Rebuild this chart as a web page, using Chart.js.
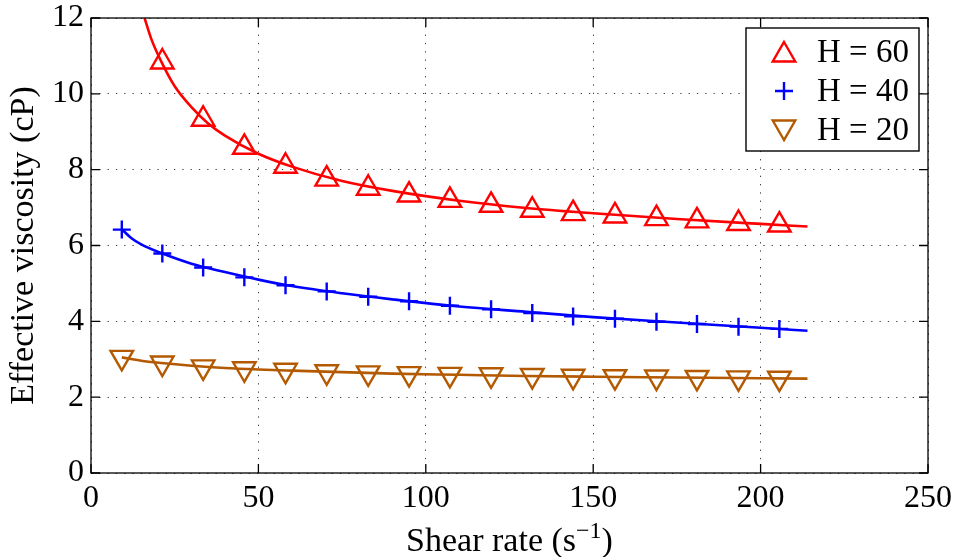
<!DOCTYPE html>
<html>
<head>
<meta charset="utf-8">
<script src="https://cdn.jsdelivr.net/npm/chart.js@4"></script>
<style>
  html, body { margin: 0; padding: 0; background: #fff; }
  #wrap { width: 955px; height: 557px; }
</style>
</head>
<body>
<div id="wrap"><canvas id="viscChart" width="955" height="557"></canvas></div>
<script>
(function(){
    "use strict";

    // measured points (shear rate, s^-1)
    var shearRate = [9.2, 21.3, 33.5, 45.8, 58.1, 70.4, 82.8, 95.0, 107.2, 119.5, 131.8, 144.0, 156.5, 168.9, 181.0, 193.4, 205.6];
    var viscH60 = [null, 10.84, 9.33, 8.59, 8.09, 7.75, 7.51, 7.33, 7.19, 7.06, 6.93, 6.84, 6.78, 6.71, 6.65, 6.58, 6.54];
    var viscH40 = [6.42, 5.79, 5.42, 5.16, 4.95, 4.79, 4.65, 4.53, 4.41, 4.32, 4.22, 4.13, 4.07, 3.99, 3.93, 3.86, 3.80];
    var viscH20 = [3.05, 2.90, 2.80, 2.75, 2.71, 2.67, 2.64, 2.62, 2.60, 2.59, 2.57, 2.55, 2.54, 2.53, 2.52, 2.51, 2.50];

    // fitted curves
    var fitX60 = [16, 18, 21, 25, 30, 35, 40, 50, 60, 75, 90, 110, 130, 150, 175, 200, 214];
    var fitY60 = [12.0, 11.45, 10.85, 10.2, 9.65, 9.22, 8.9, 8.42, 8.08, 7.7, 7.44, 7.18, 6.99, 6.85, 6.7, 6.57, 6.5];
    var fitX40 = [9.2, 12, 15, 21, 30, 40, 50, 60, 75, 90, 110, 130, 150, 175, 200, 214];
    var fitY40 = [6.43, 6.2, 6.03, 5.8, 5.52, 5.3, 5.1, 4.93, 4.74, 4.58, 4.39, 4.25, 4.11, 3.97, 3.83, 3.75];
    var fitX20 = [9.2, 15, 21, 30, 40, 50, 60, 75, 90, 110, 130, 150, 175, 200, 214];
    var fitY20 = [3.05, 2.96, 2.9, 2.83, 2.77, 2.73, 2.7, 2.66, 2.62, 2.59, 2.56, 2.54, 2.52, 2.5, 2.49];

    var xTicks = [0, 50, 100, 150, 200, 250];
    var yTicks = [0, 2, 4, 6, 8, 10, 12];
    var seriesLabels = ["H = 60", "H = 40", "H = 20"];
    var colors = ["#ff0000", "#0000ff", "#b35900"];

    function pts(xs, ys) {
        var out = [];
        for (var i = 0; i < xs.length; i++) {
            if (ys[i] !== null) out.push({x: xs[i], y: ys[i]});
        }
        return out;
    }

    var serif = "'Liberation Serif', 'Times New Roman', serif";
    Chart.defaults.font.family = serif;
    Chart.defaults.font.size = 32;
    Chart.defaults.color = "#000";

    var markerSets = [
        {label: seriesLabels[0], data: pts(shearRate, viscH60), pointStyle: "triangle", rotation: 0, radius: 13},
        {label: seriesLabels[1], data: pts(shearRate, viscH40), pointStyle: "cross", rotation: 0, radius: 9},
        {label: seriesLabels[2], data: pts(shearRate, viscH20), pointStyle: "triangle", rotation: 180, radius: 13}
    ];
    var fitSets = [pts(fitX60, fitY60), pts(fitX40, fitY40), pts(fitX20, fitY20)];

    var datasets = [];
    fitSets.forEach(function(d, i){
        datasets.push({
            label: "fit " + i, data: d, showLine: true, borderColor: colors[i],
            borderWidth: 2.6, pointRadius: 0, cubicInterpolationMode: "monotone", fill: false
        });
    });
    markerSets.forEach(function(m, i){
        datasets.push({
            label: m.label, data: m.data, showLine: false, borderColor: colors[i],
            backgroundColor: "rgba(0,0,0,0)", pointStyle: m.pointStyle, pointRotation: m.rotation,
            pointRadius: m.radius, pointBorderWidth: 2.4, pointHoverRadius: m.radius
        });
    });

    // frame, inward ticks, x title with superscript, legend box
    var framePlugin = {
        id: "frame",
        afterDatasetsDraw: function(chart){
            var ctx = chart.ctx, a = chart.chartArea;
            var xs = chart.scales.x, ys = chart.scales.y;
            ctx.save();
            ctx.strokeStyle = "#000";
            ctx.lineWidth = 1.3;
            ctx.strokeRect(a.left, a.top, a.right - a.left, a.bottom - a.top);
            ctx.beginPath();
            xTicks.forEach(function(v){
                var px = xs.getPixelForValue(v);
                ctx.moveTo(px, a.bottom); ctx.lineTo(px, a.bottom - 9);
                ctx.moveTo(px, a.top); ctx.lineTo(px, a.top + 9);
            });
            yTicks.forEach(function(v){
                var py = ys.getPixelForValue(v);
                ctx.moveTo(a.left, py); ctx.lineTo(a.left + 9, py);
                ctx.moveTo(a.right, py); ctx.lineTo(a.right - 9, py);
            });
            ctx.stroke();

            // x axis title
            ctx.fillStyle = "#000";
            ctx.textBaseline = "alphabetic";
            ctx.textAlign = "left";
            var main = "Shear rate (s", sup = "\u22121", close = ")";
            ctx.font = "34px " + serif;
            var w1 = ctx.measureText(main).width, w3 = ctx.measureText(close).width;
            ctx.font = "24px " + serif;
            var w2 = ctx.measureText(sup).width;
            var cx = (a.left + a.right) / 2;
            var x0 = cx - (w1 + w2 + w3) / 2, base = 551;
            ctx.font = "34px " + serif;
            ctx.fillText(main, x0, base);
            ctx.font = "24px " + serif;
            ctx.fillText(sup, x0 + w1, base - 13);
            ctx.font = "34px " + serif;
            ctx.fillText(close, x0 + w1 + w2, base);

            // legend
            var lx = 746, ly = 28, lw = 173, lh = 123;
            ctx.fillStyle = "#fff";
            ctx.fillRect(lx, ly, lw, lh);
            ctx.lineWidth = 1.4;
            ctx.strokeStyle = "#000";
            ctx.strokeRect(lx, ly, lw, lh);
            var rows = [52, 91, 130];
            markerSets.forEach(function(m, i){
                ctx.strokeStyle = colors[i];
                ctx.fillStyle = "rgba(0,0,0,0)";
                ctx.lineWidth = 2.4;
                Chart.helpers.drawPoint(ctx, {
                    pointStyle: m.pointStyle, rotation: m.rotation, radius: m.radius, borderWidth: 2.4
                }, 784, rows[i] + (m.pointStyle === "triangle" ? (m.rotation ? -3 : 3) : 0));
                ctx.fillStyle = "#000";
                ctx.font = "33px " + serif;
                ctx.textBaseline = "middle";
                ctx.fillText(m.label, 817, rows[i] + 1);
            });
            ctx.restore();
        }
    };

    var chartArea = document.querySelector("#viscChart");
    new Chart(chartArea, {
        type: "scatter",
        data: {datasets: datasets},
        options: {
            responsive: false,
            animation: false,
            layout: {padding: {top: 18, right: 27, left: 0, bottom: 0}},
            plugins: {legend: {display: false}, tooltip: {enabled: false}},
            scales: {
                x: {
                    type: "linear", min: 0, max: 250,
                    afterFit: function(s){ s.height = 84; s.paddingLeft = 0; s.paddingRight = 0; },
                    afterBuildTicks: function(s){ s.ticks = xTicks.map(function(v){ return {value: v}; }); },
                    ticks: {color: "#000", font: {family: serif, size: 32}, padding: 6, maxRotation: 0},
                    grid: {color: "rgba(0,0,0,0.75)", lineWidth: 1, drawTicks: false},
                    border: {display: false, dash: [1.3, 7]}
                },
                y: {
                    type: "linear", min: 0, max: 12,
                    afterFit: function(s){ s.width = 91; s.paddingTop = 0; s.paddingBottom = 0; },
                    afterBuildTicks: function(s){ s.ticks = yTicks.map(function(v){ return {value: v}; }); },
                    ticks: {color: "#000", font: {family: serif, size: 32}, padding: 7},
                    grid: {color: "rgba(0,0,0,0.75)", lineWidth: 1, drawTicks: false},
                    border: {display: false, dash: [1.3, 7]},
                    title: {display: true, text: "Effective viscosity (cP)", color: "#000",
                            font: {family: serif, size: 34}, padding: {top: 4, bottom: 0}}
                }
            }
        },
        plugins: [framePlugin]
    });
})();
</script>
</body>
</html>
